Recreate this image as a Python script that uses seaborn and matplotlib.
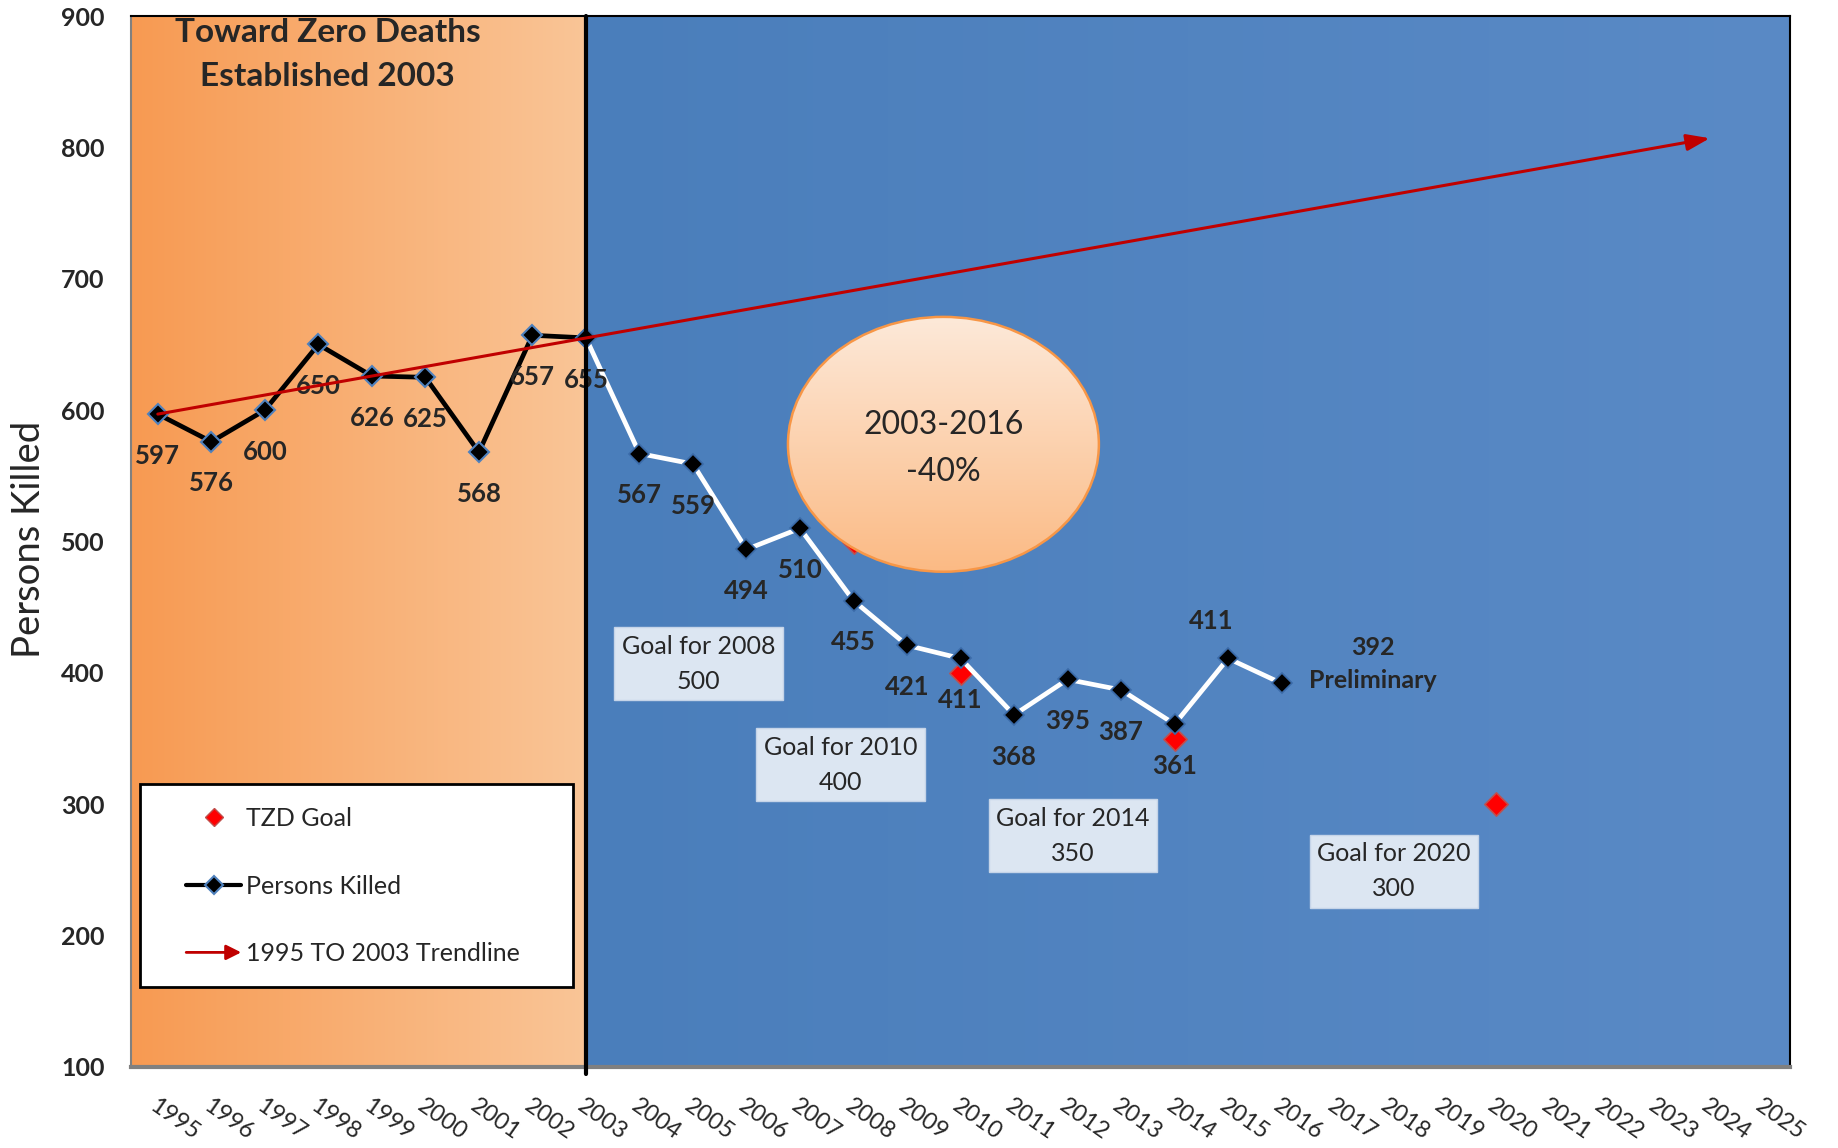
import numpy as np
import pandas as pd
import matplotlib
matplotlib.use("Agg")
import matplotlib.pyplot as plt
import seaborn as sns
from matplotlib.patches import Ellipse, Rectangle, FancyArrowPatch
from matplotlib.colors import LinearSegmentedColormap
from matplotlib.lines import Line2D
from matplotlib.legend_handler import HandlerPatch

# ---------------------------------------------------
# DATA
# ---------------------------------------------------

years = list(range(1995, 2017))
persons_killed = [597, 576, 600, 650, 626, 625, 568, 657, 655, 567, 559,
                  494, 510, 455, 421, 411, 368, 395, 387, 361, 411, 392]

goal_years = [2008, 2010, 2014, 2020]
goal_values = [500, 400, 350, 300]
goal_labels = ["Goal for 2008\n500", "Goal for 2010\n400",
               "Goal for 2014\n350", "Goal for 2020\n300"]

trend_years = [1995, 2024]
trend_values = [597, 807]

tick_years = list(range(1995, 2026))
tzd_year = 2003

# ---------------------------------------------------
# LAYOUT / STYLE (positions of text boxes, label offsets)
# ---------------------------------------------------

goal_box_pos = [(2005.1, 407), (2007.76, 330), (2012.1, 276), (2018.1, 249)]
label_offsets = {2015: (-12, 27)}

ORANGE_L, ORANGE_R = "#F79A52", "#FAC597"
BLUE_L, BLUE_R = "#4A7EBB", "#5A8AC6"


def hgradient(c0, c1, n=256):
    cmap = LinearSegmentedColormap.from_list("g", [c0, c1])
    return cmap(np.linspace(0, 1, n))[None, :, :]


class HandlerArrow(HandlerPatch):
    def create_artists(self, legend, orig_handle, xdescent, ydescent,
                       width, height, fontsize, trans):
        y = height / 2 - ydescent
        p = FancyArrowPatch((-xdescent, y), (width - xdescent, y),
                            arrowstyle="-|>,head_length=0.5,head_width=0.25",
                            mutation_scale=fontsize, color="#C00000", lw=2,
                            shrinkA=0, shrinkB=0)
        p.set_transform(trans)
        return [p]


sns.set_style("white")
plt.rcParams["font.family"] = ["Lato", "DejaVu Sans"]

df = pd.DataFrame({"year": years, "killed": persons_killed})
pre = df[df["year"] <= tzd_year]
post = df[df["year"] >= tzd_year]
goals = pd.DataFrame({"year": goal_years, "goal": goal_values})

fig = plt.figure(figsize=(18.38, 11.48), dpi=100)
ax = fig.add_axes([0.0713, 0.0706, 0.9026, 0.9154])

# background panels
ax.imshow(hgradient(ORANGE_L, ORANGE_R), extent=[1994.5, tzd_year, 100, 900],
          aspect="auto", zorder=0, interpolation="bicubic")
ax.imshow(hgradient(BLUE_L, BLUE_R), extent=[tzd_year, 2025.5, 100, 900],
          aspect="auto", zorder=0, interpolation="bicubic")

# goal markers (2008 one sits behind the ellipse)
sns.scatterplot(data=goals, x="year", y="goal", ax=ax, marker="D", s=140,
                color="#FF0000", edgecolor="#C0504D", linewidth=1.2, zorder=4,
                legend=False)

# persons killed
sns.lineplot(data=pre, x="year", y="killed", ax=ax, color="black", lw=3.4,
             marker="D", markersize=10.5, markerfacecolor="black",
             markeredgecolor="#4F81BD", markeredgewidth=1.5, zorder=5)
sns.lineplot(data=post, x="year", y="killed", ax=ax, color="white", lw=3.4,
             marker="D", markersize=10.5, markerfacecolor="black",
             markeredgecolor="#3A6AA8", markeredgewidth=1.2, zorder=5)

# data labels
for yr, val in zip(years, persons_killed):
    if yr == years[-1]:
        ax.annotate(f"{val}\nPreliminary", (yr, val), xytext=(66, 14),
                    textcoords="offset points", ha="center", va="center",
                    fontsize=18, fontweight="bold", linespacing=1.55, zorder=6)
        continue
    dx, dy = label_offsets.get(yr, (0, -30))
    ax.annotate(str(val), (yr, val), xytext=(dx, dy),
                textcoords="offset points", ha="center", va="center",
                fontsize=18.5, fontweight="bold", zorder=6)

# ellipse callout
ecx, ecy, ew, eh = 2009.68, 574, 5.81, 194
ell = Ellipse((ecx, ecy), ew, eh, facecolor="none", edgecolor="#F79646",
              lw=1.8, zorder=7.5)
ax.add_patch(ell)
egrad = LinearSegmentedColormap.from_list("e", ["#FBBA84", "#FDE9D9"])(
    np.linspace(0, 1, 256))[:, None, :]
im = ax.imshow(egrad, extent=[ecx - ew / 2, ecx + ew / 2, ecy - eh / 2, ecy + eh / 2],
               origin="lower", aspect="auto", zorder=7, interpolation="bicubic")
im.set_clip_path(ell)
ax.text(ecx, ecy - 3, "2003-2016\n-40%", ha="center", va="center", fontsize=23,
        linespacing=1.7, zorder=8)

# goal boxes
for (bx, by), txt in zip(goal_box_pos, goal_labels):
    ax.text(bx, by, txt, ha="center", va="center", fontsize=18, linespacing=1.65,
            zorder=6, bbox=dict(boxstyle="square,pad=0.3", fc="#DCE6F2",
                                ec="#C5D4E8", lw=1))

# trendline arrow
ax.annotate("", xy=(trend_years[1], trend_values[1]),
            xytext=(trend_years[0], trend_values[0]),
            arrowprops=dict(arrowstyle="-|>,head_length=0.7,head_width=0.25",
                            color="#C00000", lw=2.2, shrinkA=0, shrinkB=0,
                            mutation_scale=20),
            zorder=8)

# TZD start line
ax.axvline(tzd_year, ymin=-0.007, ymax=1, color="black", lw=3, zorder=7,
           clip_on=False)

# title
ax.text(0.1186, 0.9635, "Toward Zero Deaths\nEstablished 2003", transform=ax.transAxes,
        ha="center", va="center", fontsize=24, fontweight="bold",
        linespacing=1.6, zorder=8)

# axes
ax.set_xlim(1994.5, 2025.5)
ax.set_ylim(100, 900)
ax.set_yticks(range(100, 901, 100))
ax.set_yticklabels([str(v) for v in range(100, 901, 100)], fontsize=18,
                   fontweight="bold")
ax.set_xticks(tick_years)
ax.set_xticklabels([str(y) for y in tick_years], rotation=-35, ha="left",
                   va="top", rotation_mode="anchor", fontsize=17)
ax.tick_params(axis="y", length=0, pad=19)
ax.tick_params(axis="x", length=0, pad=20)
ax.set_xlabel("")
ax.set_ylabel("")

ax.spines["left"].set_color("#808080")
ax.spines["left"].set_linewidth(1.5)
ax.spines["bottom"].set_color("#808080")
ax.spines["bottom"].set_linewidth(3)
ax.spines["top"].set_color("black")
ax.spines["top"].set_linewidth(1.5)
ax.spines["right"].set_color("black")
ax.spines["right"].set_linewidth(1.5)

fig.text(0.016, 0.53, "Persons Killed", rotation=90, fontsize=27.5,
         ha="center", va="center")

# legend
ax.add_patch(Rectangle((0.0762, 0.140), 0.2356, 0.177, transform=fig.transFigure,
                       fc="white", ec="black", lw=2, zorder=9, clip_on=False))
arrow_handle = FancyArrowPatch((0, 0), (1, 0))
handles = [
    Line2D([], [], ls="none", marker="D", color="#FF0000", mec="#C0504D", ms=9),
    Line2D([], [], color="black", lw=3, marker="D", mfc="black", mec="#4F81BD",
           ms=9, mew=1.5),
    arrow_handle,
]
labels = ["TZD Goal", "Persons Killed", "1995 TO 2003 Trendline"]
leg = ax.legend(handles, labels, loc="upper left", bbox_to_anchor=(0.0945, 0.3078),
                bbox_transform=fig.transFigure, frameon=False, fontsize=18,
                borderpad=0, labelspacing=1.78, handlelength=2.2,
                handletextpad=0.2, handler_map={arrow_handle: HandlerArrow()})
leg.set_zorder(10)

fig.savefig("out.png", dpi=100)
